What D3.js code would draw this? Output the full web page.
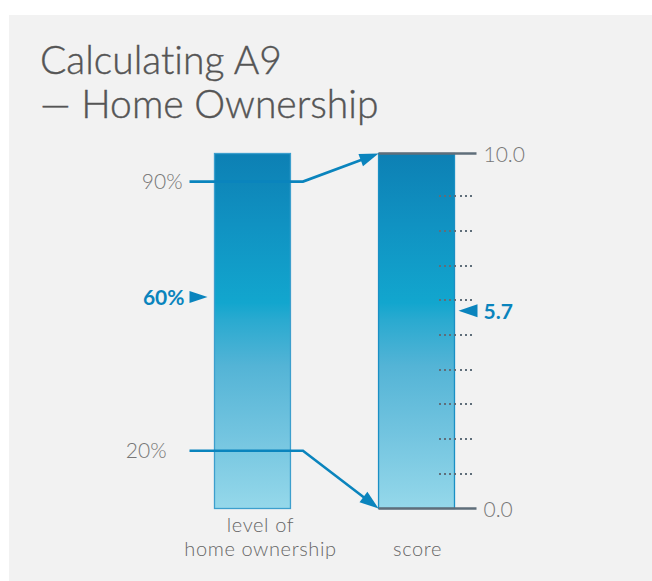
<!DOCTYPE html>
<html><head><meta charset="utf-8">
<script src="https://cdn.jsdelivr.net/npm/d3@7"></script>
<style>html,body{margin:0;padding:0;background:#fff;}svg{display:block;}text{font-variant-ligatures:none;}</style>
</head><body>
<script>
// ---- data ----
const titleLines = ["Calculating A9", "— Home Ownership"];
const levelTicks = [90, 20];          // labelled levels (%)
const levelTickLabels = ["90%", "20%"];
const levelValue = 60;                // observed level (%)
const levelExtent = [5, 97.3];        // extent of the level bar (%)
const scoreEnds = [0, 10];            // score range
const scoreEndLabels = ["0.0", "10.0"];
const scoreMinorTicks = [1, 2, 3, 4, 5, 6, 7, 8, 9];
const scoreValue = 5.7;
const mapping = [[90, 10], [20, 0]];  // level -> score
const axisLabels = [["level of", "home ownership"], ["score"]];

// ---- layout ----
const W = 652, H = 581;
const yBottom = 508.5, yTop = 153.5;
const blue = "#0a84bd", grey = "#777", axisGrey = "#5f6e7a";

const svg = d3.select("body").append("svg").attr("width", W).attr("height", H);
svg.append("rect").attr("x", 9).attr("y", 15).attr("width", W - 9).attr("height", H - 15).attr("fill", "#f2f2f2");

const defs = svg.append("defs");
const grad = defs.append("linearGradient").attr("id", "barGrad").attr("x1", 0).attr("y1", 0).attr("x2", 0).attr("y2", 1);
[["0%", "#0d80b4"], ["20%", "#1092c2"], ["42%", "#12a6ce"], ["47%", "#2aaad0"], ["60%", "#54b4d6"], ["80%", "#74c5e0"], ["100%", "#95d8ea"]]
  .forEach(([o, c]) => grad.append("stop").attr("offset", o).attr("stop-color", c));

const levelScale = d3.scaleLinear().domain(levelExtent).range([yBottom, yTop]);
const scoreScale = d3.scaleLinear().domain([0, 9, 10]).range([yBottom, 196.3, yTop]);

const xBand = d3.scaleBand().domain(["level", "score"]).range([214.5, 454.5]).paddingInner(0.537).paddingOuter(0);
const lx0 = xBand("level"), lw = xBand.bandwidth();
const rx0 = xBand("score");

// title
svg.append("g").selectAll("text").data(titleLines).join("text")
  .attr("x", 40).attr("y", (d, i) => 74 + i * 44)
  .attr("font-family", "Lato, 'Open Sans', sans-serif").attr("font-weight", 300)
  .attr("font-size", 39).attr("fill", "#555").attr("stroke", "#555").attr("stroke-width", 0.4).text(d => d);

// bars
svg.append("rect").attr("x", lx0).attr("width", lw)
  .attr("y", levelScale(levelExtent[1])).attr("height", levelScale(levelExtent[0]) - levelScale(levelExtent[1]))
  .attr("fill", "url(#barGrad)").attr("stroke", "#3d9fcd").attr("stroke-width", 1.3);
svg.append("rect").attr("x", rx0).attr("width", lw)
  .attr("y", scoreScale(scoreEnds[1])).attr("height", scoreScale(scoreEnds[0]) - scoreScale(scoreEnds[1]))
  .attr("fill", "url(#barGrad)").attr("stroke", "#1a8fc4").attr("stroke-width", 1.3);

// score dotted ticks (rows of small square dots)
const dotX = d3.range(7).map(k => Math.round(rx0 + lw - 16 + k * 5.33));
svg.append("g").selectAll("g").data(scoreMinorTicks).join("g")
  .attr("transform", d => `translate(0,${Math.round(scoreScale(d)) - 1})`)
  .selectAll("rect").data(dotX).join("rect")
  .attr("x", d => d).attr("y", 0).attr("width", 2).attr("height", 2)
  .attr("fill", axisGrey);

// score end lines + labels
svg.append("g").selectAll("line").data(scoreEnds).join("line")
  .attr("x1", rx0).attr("x2", rx0 + lw + 22)
  .attr("y1", d => scoreScale(d)).attr("y2", d => scoreScale(d))
  .attr("stroke", axisGrey).attr("stroke-width", 2.6);
svg.append("g").selectAll("text").data(scoreEnds).join("text")
  .attr("x", rx0 + lw + 29).attr("y", d => scoreScale(d) + 8)
  .attr("font-family", "Lato, sans-serif").attr("font-weight", 300).attr("font-size", 21)
  .attr("fill", grey).text((d, i) => scoreEndLabels[i]);

// connectors
const arrowHead = (tx, ty, ang, len, wid) => {
  const c = Math.cos(ang), s = Math.sin(ang);
  const bx = tx - c * len, by = ty - s * len;
  return `M${tx},${ty}L${bx - s * wid / 2},${by + c * wid / 2}L${bx + s * wid / 2},${by - c * wid / 2}Z`;
};
const g = svg.append("g");
mapping.forEach(([lv, sc]) => {
  const y0 = levelScale(lv), y1 = scoreScale(sc);
  const kx = lx0 + lw + 12.5, tx = rx0;
  const ang = Math.atan2(y1 - y0, tx - kx);
  const endX = tx - Math.cos(ang) * 10, endY = y1 - Math.sin(ang) * 10;
  g.append("path").attr("d", `M${lx0 - 25},${y0}H${kx}L${endX},${endY}`)
    .attr("fill", "none").attr("stroke", blue).attr("stroke-width", 2.6);
  g.append("path").attr("d", arrowHead(tx, y1, ang, 19, 13)).attr("fill", blue);
});

// level tick labels
const labelShift = [0, -16];
svg.append("g").selectAll("text").data(levelTicks).join("text")
  .attr("x", (d, i) => lx0 - 32 + labelShift[i]).attr("y", d => levelScale(d) + 7.5)
  .attr("text-anchor", "end")
  .attr("font-family", "Lato, sans-serif").attr("font-weight", 300).attr("font-size", 21)
  .attr("fill", grey).text((d, i) => levelTickLabels[i]);

// level value marker
const yl = levelScale(levelValue);
svg.append("path").attr("d", arrowHead(lx0 - 7, yl, 0, 18, 12)).attr("fill", blue);
svg.append("text").attr("x", lx0 - 30).attr("y", yl + 8).attr("text-anchor", "end")
  .attr("font-family", "Lato, sans-serif").attr("font-weight", 700).attr("font-size", 21)
  .attr("fill", blue).text(levelValue + "%");

// score value marker
const ys = scoreScale(scoreValue);
svg.append("path").attr("d", arrowHead(rx0 + lw + 4, ys, Math.PI, 19, 13)).attr("fill", blue);
svg.append("text").attr("x", rx0 + lw + 29).attr("y", ys + 8)
  .attr("font-family", "Lato, sans-serif").attr("font-weight", 700).attr("font-size", 21)
  .attr("fill", blue).text(d3.format(".1f")(scoreValue));

// axis labels
const labelCenters = [lx0 + lw / 2 + 8, rx0 + lw / 2 + 1];
axisLabels.forEach((lines, i) => {
  svg.append("g").selectAll("text").data(lines).join("text")
    .attr("x", labelCenters[i]).attr("y", (d, j) => 556 - (lines.length - 1 - j) * 24)
    .attr("text-anchor", "middle")
    .attr("font-family", "Lato, sans-serif").attr("font-weight", 300).attr("font-size", 20)
    .attr("letter-spacing", 0.6)
    .attr("fill", "#666").text(d => d);
});
</script>
</body></html>
